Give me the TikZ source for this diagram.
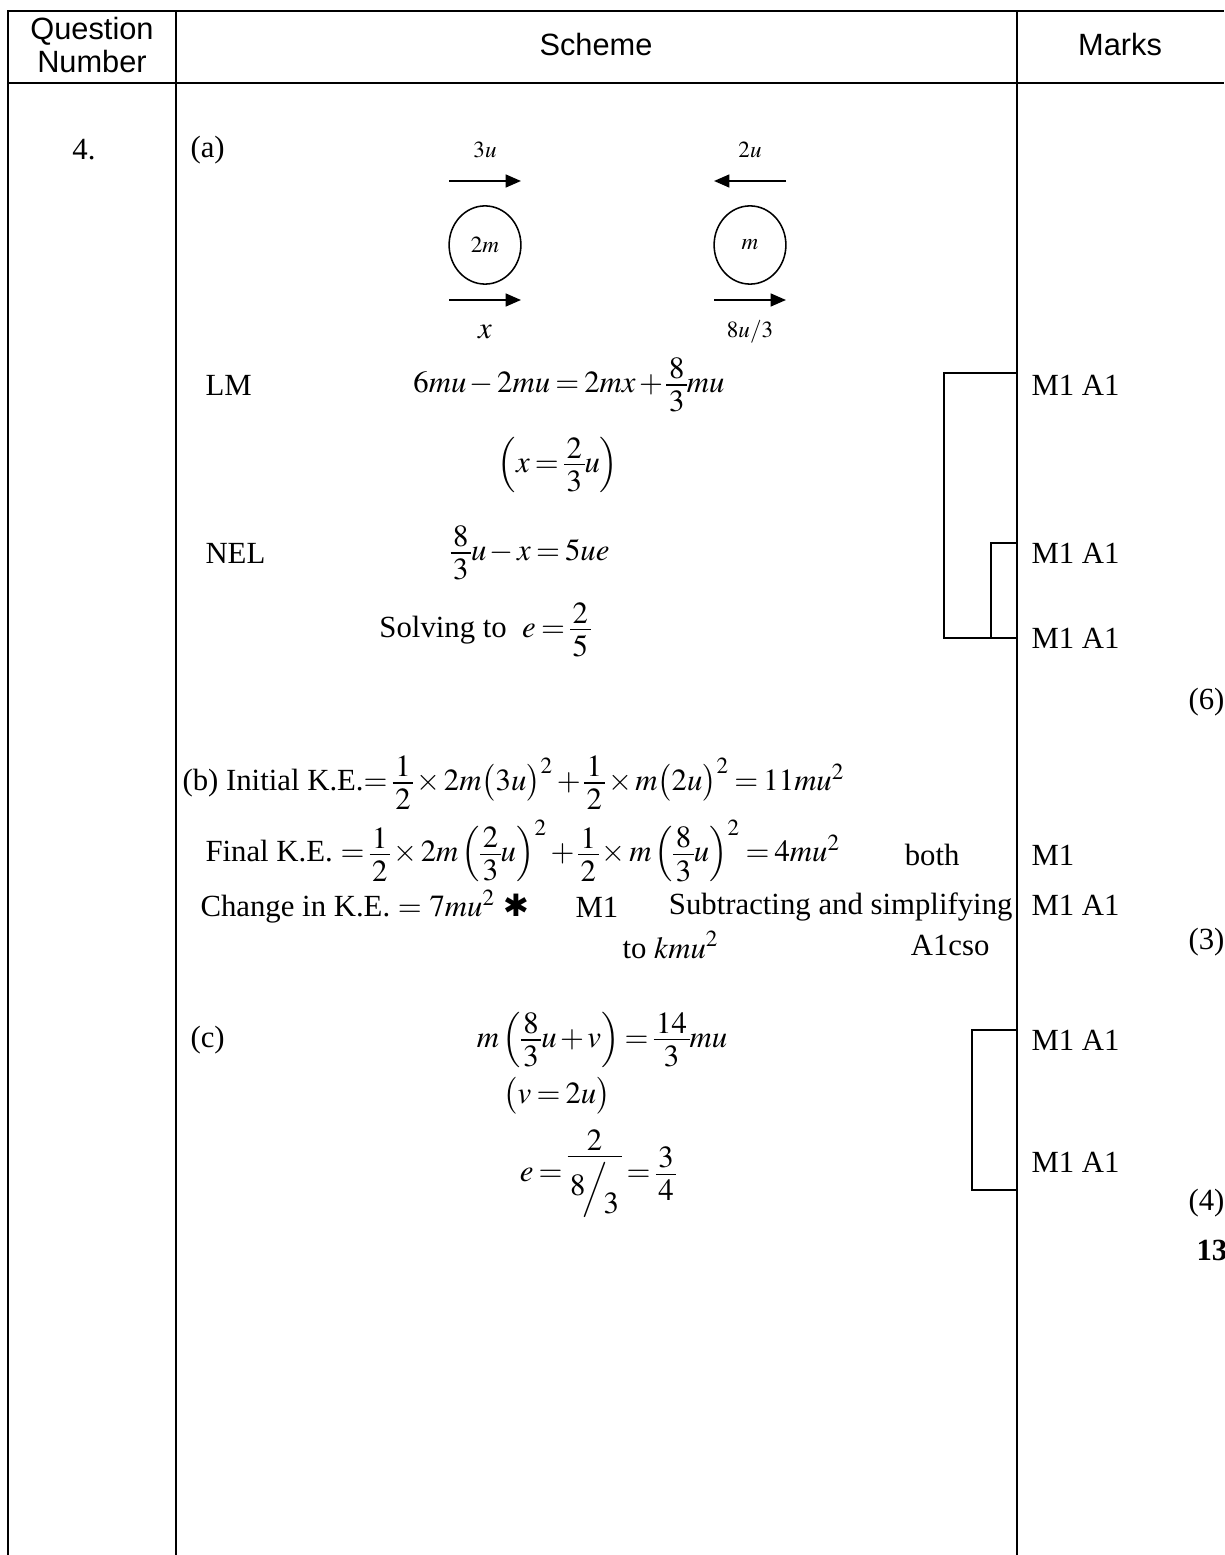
\documentclass[tikz,border=0pt]{standalone}
\usepackage{amsmath}
\usepackage{mathptmx}
\usepackage[no-math]{fontspec}
\setmainfont{Liberation Serif}
\newfontfamily\arialfont{Liberation Sans}
\newfontfamily\starfont{DejaVu Sans}
\usetikzlibrary{arrows.meta,shapes.geometric}

% stacked fraction, as the equation editor sets it
\newcommand\fr[2]{\mathord{\vcenter{\offinterlineskip\halign{\hfil\kern1pt$##$\kern1pt\hfil\cr #1\cr\noalign{\kern2.2pt\hrule height0.4pt\kern2.2pt}#2\cr}}}}
\thickmuskip=3mu plus 1mu
\medmuskip=2mu plus 1mu

\tikzset{
  txt/.style={inner sep=0pt, font=\fontsize{12}{14}\selectfont},
  hdr/.style={inner sep=0pt, align=center, font=\arialfont\fontsize{12}{12.6}\selectfont},
  lbl/.style={inner sep=0pt, font=\fontsize{9}{10}\selectfont},
  mk/.style={txt, anchor=west},
  rule/.style={line width=0.9pt},
  brk/.style={line width=0.6pt},
  vel/.style={line width=0.8pt, -{Triangle[length=6pt,width=5pt]}},
  ball/.style={ellipse, draw, line width=0.6pt, minimum width=28pt, minimum height=30.5pt, inner sep=0pt, font=\fontsize{9}{10}\selectfont}
}

\begin{document}
\begin{tikzpicture}[x=0.39pt,y=-0.39pt]
    \useasboundingbox (0,0) rectangle (1224,1555);
    % table rules
    \draw[rule] (8,1555) |- (1224,11);
    \draw[rule] (8,83) -- (1224,83);
    \draw[rule] (176,11) -- (176,1555);
    \draw[rule] (1017,11) -- (1017,1555);
    % header
    \node[hdr] (qnum) at (92,45) {Question\\Number};
    \node[hdr] (scheme) at (596,45) {Scheme};
    \node[hdr] (marks) at (1120,45) {Marks};
    % (a) diagram
    \node[txt] (qno) at (84,150) {4.};
    \node[txt, anchor=west] (pa) at (190,150) {(a)};
    \node[ball] (bA) at (485,245) {\raisebox{-3pt}{$2m$}};
    \node[ball] (bB) at (750,245) {\raisebox{-3pt}{$m$}};
    \node[lbl] (uA) at (485,150) {$3u$};
    \node[lbl] (uB) at (750,150) {$2u$};
    \node[txt] (wA) at (485,332) {$x$};
    \node[lbl] (wB) at (750,332) {$8u/3$};
    \coordinate (aA1) at (449,181); \coordinate (aA2) at (521,181);
    \coordinate (aB1) at (786,181); \coordinate (aB2) at (714,181);
    \coordinate (cA1) at (449,300); \coordinate (cA2) at (521,300);
    \coordinate (cB1) at (714,300); \coordinate (cB2) at (786,300);
    \draw[vel] (aA1) -- (aA2);
    \draw[vel] (aB1) -- (aB2);
    \draw[vel] (cA1) -- (cA2);
    \draw[vel] (cB1) -- (cB2);
    % (a) working
    \node[txt, anchor=west] (lm) at (205,385) {LM};
    \node[txt] (eqlm) at (569,385) {$6mu-2mu=2mx+\fr{8}{3}mu$};
    \node[txt] (eqx) at (558,465) {$\left(x=\fr{2}{3}u\right)$};
    \node[txt, anchor=west] (nel) at (205,553) {NEL};
    \node[txt] (eqnel) at (530,553) {$\fr{8}{3}u-x=5ue$};
    \node[txt] (solve) at (485,630) {Solving to \ $e=\fr{2}{5}$};
    \node[mk] (ma1) at (1031,385) {M1 A1};
    \node[mk] (ma2) at (1031,553) {M1 A1};
    \node[mk] (ma3) at (1031,638) {M1 A1};
    \coordinate (ka1) at (1017,373); \coordinate (ka2) at (1017,543); \coordinate (ka3) at (1017,638);
    \draw[brk] (ka1) -- ++(-73,0) |- (ka3);
    \draw[brk] (ka2) -- ++(-26,0) -- ++(0,95);
    \node[txt, anchor=west] (ta) at (1188,702) {(6)};
    % (b)
    \node[txt, anchor=west] (ike) at (182,783) {(b) Initial K.E.$=\fr{1}{2}\times 2m\bigl(3u\bigr)^{2}+\fr{1}{2}\times m\bigl(2u\bigr)^{2}=11mu^{2}$};
    \node[txt, anchor=west] (fke) at (205,851) {Final K.E. $=\fr{1}{2}\times 2m\left(\fr{2}{3}u\right)^{2}+\fr{1}{2}\times m\left(\fr{8}{3}u\right)^{2}=4mu^{2}$};
    \node[txt, anchor=east] (both) at (960,855) {both};
    \node[txt, anchor=west] (cke) at (200,907) {Change in K.E. $=$ $7mu^{2}$ {\starfont\bfseries ✱}};
    \node[txt, anchor=west] (cm1) at (575,907) {M1};
    \node[txt, anchor=east] (sub) at (1013,907) {Subtracting and simplifying};
    \node[txt, anchor=west] (tok) at (622,945) {to $kmu^{2}$};
    \node[txt, anchor=east] (cso) at (990,945) {A1cso};
    \node[mk] (mb1) at (1031,855) {M1};
    \node[mk] (mb2) at (1031,905) {M1 A1};
    \node[txt, anchor=west] (tb) at (1188,942) {(3)};
    % (c)
    \node[txt, anchor=west] (pc) at (190,1040) {(c)};
    \node[txt] (eqc) at (602,1040) {$m\left(\fr{8}{3}u+v\right)=\fr{14}{3}mu$};
    \node[txt] (eqv) at (557,1096) {$\bigl(v=2u\bigr)$};
    \node[txt] (eqe) at (598,1174) {$e=\fr{2}{\raisebox{0.2ex}{$8$}\!\Big/\!\raisebox{-1.1ex}{$3$}}=\fr{3}{4}$};
    \node[mk] (mc1) at (1031,1040) {M1 A1};
    \node[mk] (mc2) at (1031,1162) {M1 A1};
    \coordinate (kc1) at (1017,1030); \coordinate (kc2) at (1017,1190);
    \draw[brk] (kc1) -- ++(-45,0) |- (kc2);
    \node[txt, anchor=west] (tc) at (1188,1203) {(4)};
    \node[txt, anchor=west] (tot) at (1196,1250) {\bfseries 13};
\end{tikzpicture}
\end{document}
